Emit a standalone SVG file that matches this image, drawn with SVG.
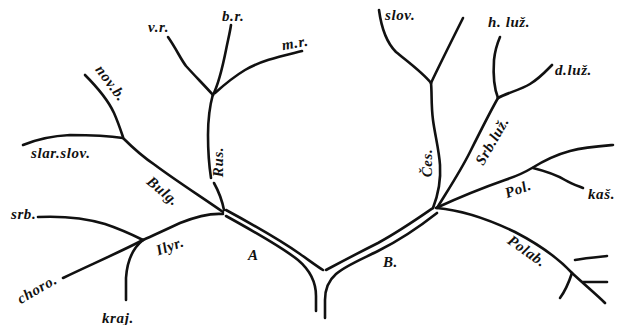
<svg xmlns="http://www.w3.org/2000/svg" width="631" height="325" viewBox="0 0 631 325">
<style>
.br{fill:none;stroke:#111;stroke-width:2.6;stroke-linecap:round;stroke-linejoin:round}
.lb{font-family:"Liberation Serif","DejaVu Serif",serif;font-weight:bold;font-style:italic;font-size:15px;letter-spacing:0.6px;fill:#111}
.c{text-anchor:middle;dominant-baseline:central}
</style>
<rect width="631" height="325" fill="#fff"/>
<g id="connectors">
<path class="br" d="M226,210 C250,223 280,240 300,254 C310,261 318,267 323,270"/>
<path class="br" d="M226,216 C255,232 283,248 298,260 C311,271 316,283 316,296 L316,311"/>
<path class="br" d="M326,270 C341,262 360,252 378,243 C400,231 420,217 433,208"/>
<path class="br" d="M437,213 C418,228 398,241 378,251 C360,260 345,266 336,274 C328,281 325,290 325,300 L325,318"/>
<path class="br" d="M223,214 C210,213 195,217 180,223 C165,230 152,236 143,240"/>
<path class="br" d="M38,217 C60,216 85,218 105,224 C120,229 135,236 143,240"/>
<path class="br" d="M143,240 C120,252 90,265 63,278"/>
<path class="br" d="M143,240 C133,248 127,262 126,278 L126,300"/>
<path class="br" d="M223,212 C200,196 175,180 155,165 C140,155 130,145 123,138"/>
<path class="br" d="M23,145 C35,140 50,136 70,135 C90,135 110,136 123,138"/>
<path class="br" d="M85,75 C98,88 108,100 114,113 C118,122 121,131 123,137"/>
<path class="br" d="M224,210 C222,200 219,192 214,183 M211,178 C209,165 208,150 208,135 C208,120 210,105 213,94"/>
<path class="br" d="M213,95 C205,86 195,76 186,66 C180,58 177,50 168,37"/>
<path class="br" d="M213,95 C218,85 222,70 226,50 C228,40 230,32 231,25"/>
<path class="br" d="M215,93 C225,84 235,76 245,70 C262,60 282,56 302,51"/>
<path class="br" d="M433,208 C438,195 441,180 440,165 C439,150 435,135 433,120 C431,105 432,92 431,83"/>
<path class="br" d="M431,83 C422,72 408,62 396,52 C386,42 381,25 379,10"/>
<path class="br" d="M431,83 C438,68 448,48 463,18"/>
<path class="br" d="M437,208 C448,190 460,172 470,152 C480,132 490,112 498,98"/>
<path class="br" d="M498,98 C494,88 493,75 494,60 C495,50 497,44 500,37"/>
<path class="br" d="M498,98 C507,93 520,90 530,84 C540,78 546,71 552,65"/>
<path class="br" d="M436,208 C460,197 485,187 505,180 C520,175 527,171 532,168 C545,160 555,155 570,151 C585,147 600,146 613,145"/>
<path class="br" d="M533,168 C545,171 555,174 565,180 C572,184 578,186 583,188"/>
<path class="br" d="M437,208 C460,210 490,220 515,232 C540,245 560,260 572,273 C585,285 597,295 605,303"/>
<path class="br" d="M572,273 C569,282 566,290 560,298"/>
<path class="br" d="M575,260 C585,258 597,257 607,256"/>
<path class="br" d="M583,282 L607,282"/>
</g>
<g id="n-vr"><text class="lb" x="148" y="32">v.r.</text></g>
<g id="n-br"><text class="lb" x="222" y="21">b.r.</text></g>
<g id="n-mr"><text class="lb c" transform="translate(295,43) rotate(-10)">m.r.</text></g>
<g id="n-novb"><text class="lb c" transform="translate(111,83) rotate(53)">nov.b.</text></g>
<g id="n-slarslov"><text class="lb" x="31" y="158">slar.slov.</text></g>
<g id="n-bulg"><text class="lb c" transform="translate(163,191) rotate(40)">Bulg.</text></g>
<g id="n-rus"><text class="lb c" transform="translate(218,162) rotate(-90)">Rus.</text></g>
<g id="n-srb"><text class="lb" x="11" y="219">srb.</text></g>
<g id="n-ilyr"><text class="lb c" transform="translate(170,246) rotate(-20)">Ilyr.</text></g>
<g id="n-choro"><text class="lb c" transform="translate(37,289) rotate(-30)">choro.</text></g>
<g id="n-kraj"><text class="lb" x="102" y="323">kraj.</text></g>
<g id="n-A"><text class="lb" x="248" y="260">A</text></g>
<g id="n-slov"><text class="lb" x="385" y="20">slov.</text></g>
<g id="n-hluz"><text class="lb" x="488" y="27">h. luž.</text></g>
<g id="n-dluz"><text class="lb" x="555" y="75">d.luž.</text></g>
<g id="n-srbluz"><text class="lb c" transform="translate(492,141) rotate(-60)">Srb.luž.</text></g>
<g id="n-ces"><text class="lb c" transform="translate(427,163) rotate(-90)">Čes.</text></g>
<g id="n-pol"><text class="lb c" transform="translate(518,189) rotate(-20)">Pol.</text></g>
<g id="n-kas"><text class="lb" x="588" y="199">kaš.</text></g>
<g id="n-polab"><text class="lb c" transform="translate(527,251) rotate(35)">Polab.</text></g>
<g id="n-B"><text class="lb" x="383" y="267">B.</text></g>
</svg>
